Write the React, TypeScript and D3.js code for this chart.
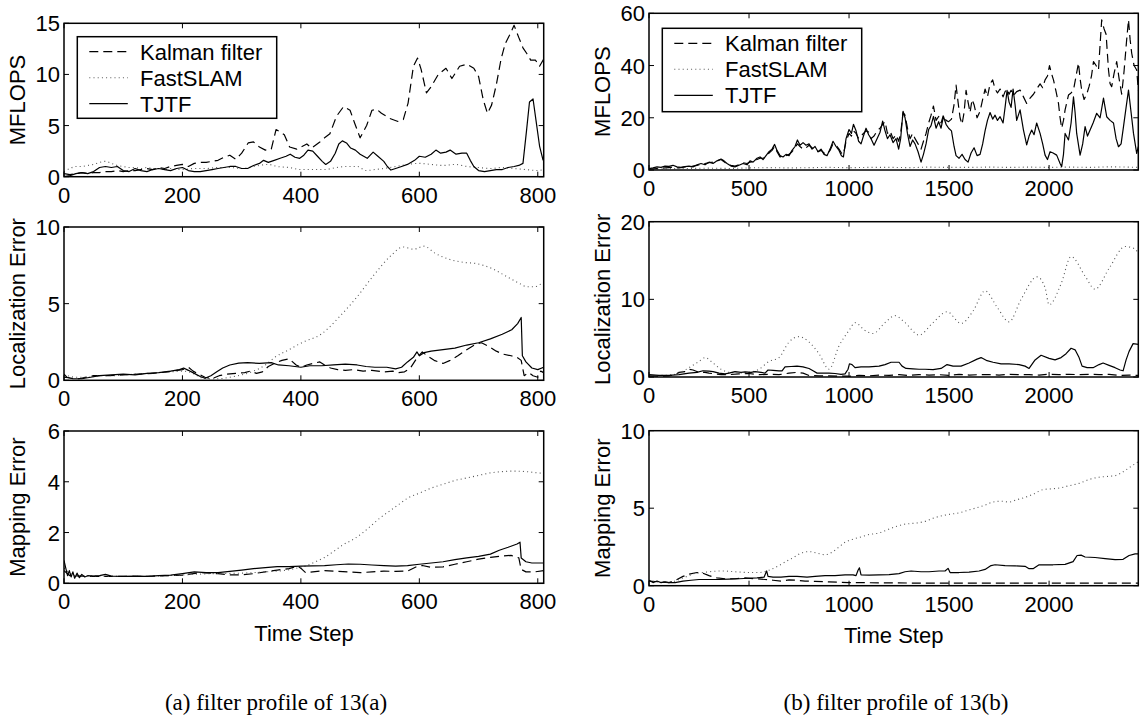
import React from "react";
import * as d3 from "d3";

type P = [number, number];

// ---------- (a) left column data ----------
const xTicksA = [0, 200, 400, 600, 800];
const xTicksB = [0, 500, 1000, 1500, 2000];
const yTicksAFlops = [0, 5, 10, 15];
const yTicksALoc = [0, 5, 10];
const yTicksAMap = [0, 2, 4, 6];
const yTicksBFlops = [0, 20, 40, 60];
const yTicksBLoc = [0, 10, 20];
const yTicksBMap = [0, 5, 10];

const seriesNames = ["Kalman filter", "FastSLAM", "TJTF"];

const aFlopsKalman: P[] = [[0,0.3],[10,0.2],[20,0.3],[30,0.4],[40,0.3],[50,0.4],[60,0.4],[70,0.5],[80,0.5],[90,0.6],[100,0.5],[110,0.6],[120,0.6],[130,0.7],[140,0.8],[150,0.7],[160,0.9],[170,0.8],[180,1.0],[190,1.1],[200,1.2],[210,1.0],[220,1.3],[230,1.4],[240,1.4],[250,1.5],[260,1.6],[270,1.9],[280,2.1],[290,1.7],[300,2.3],[311,3.3],[320,3.4],[330,2.9],[340,2.6],[350,2.7],[358,4.6],[365,4.4],[372,4.1],[381,2.9],[393,2.7],[400,2.9],[410,3.2],[418,2.8],[432,3.4],[440,3.8],[449,4.2],[460,5.9],[472,6.85],[483,6.5],[491,5.2],[500,3.8],[511,5.0],[520,6.5],[528,6.6],[536,6.2],[550,5.7],[564,5.4],[573,5.6],[581,7.2],[590,10.8],[597,11.6],[603,10.5],[612,8.2],[620,8.8],[632,10.0],[645,10.6],[655,9.6],[668,10.8],[680,11.0],[692,10.6],[700,9.8],[708,7.5],[715,6.2],[722,7.0],[730,9.0],[738,11.5],[745,13.0],[752,13.8],[760,14.8],[768,13.6],[775,12.6],[782,12.0],[788,11.4],[796,11.4],[803,10.8],[810,11.5]];
const aFlopsFast: P[] = [[0,0.5],[10,0.8],[20,1.0],[30,1.0],[40,1.1],[50,1.2],[60,1.4],[70,1.5],[80,1.3],[90,1.1],[100,1.0],[110,0.9],[120,0.9],[130,0.8],[140,0.9],[150,0.8],[160,0.8],[170,0.7],[180,0.8],[190,0.7],[200,0.7],[220,0.8],[240,0.8],[260,0.9],[280,0.9],[300,0.8],[320,1.0],[345,1.2],[360,1.0],[380,0.9],[400,0.7],[420,0.7],[440,0.7],[460,0.9],[480,1.0],[495,1.0],[510,0.6],[525,0.7],[540,0.8],[560,1.0],[580,1.2],[600,1.3],[620,1.2],[640,1.1],[660,1.2],[680,1.0],[700,0.9],[720,0.8],[740,0.9],[760,0.8],[780,0.7],[800,0.6],[810,0.7]];
const aFlopsTjtf: P[] = [[0,0.0],[10,0.1],[20,0.3],[30,0.4],[40,0.3],[50,0.5],[60,0.9],[70,1.0],[80,0.9],[90,1.0],[100,0.6],[110,0.5],[120,0.8],[130,0.6],[140,0.5],[150,0.7],[160,0.8],[170,0.7],[180,0.6],[190,0.8],[200,0.9],[210,0.6],[220,0.5],[230,0.5],[240,0.6],[250,0.7],[260,0.8],[270,0.9],[280,1.0],[290,1.0],[300,0.8],[310,0.8],[320,1.1],[330,1.3],[337,1.6],[345,1.4],[355,1.6],[365,1.8],[375,2.0],[382,2.2],[390,1.9],[398,1.8],[405,2.1],[412,2.6],[420,2.5],[428,2.0],[436,1.5],[442,1.2],[450,1.5],[458,2.3],[464,3.2],[470,3.5],[477,3.3],[484,2.8],[492,2.6],[500,2.2],[506,2.0],[512,1.8],[522,2.4],[530,2.0],[540,1.5],[546,1.0],[552,0.65],[560,0.8],[570,1.0],[580,1.2],[592,1.6],[600,2.0],[610,1.9],[620,2.2],[628,2.6],[636,2.3],[645,2.4],[652,2.6],[662,2.2],[672,2.3],[680,2.3],[686,1.6],[692,1.0],[700,0.6],[710,0.5],[720,0.6],[730,0.7],[740,0.7],[750,0.9],[760,1.0],[768,1.1],[775,1.3],[781,4.5],[786,7.3],[792,7.6],[797,5.5],[803,3.0],[809,1.6]];

const aLocKalman: P[] = [[0,0.2],[10,0.15],[25,0.1],[50,0.3],[75,0.3],[100,0.35],[125,0.4],[150,0.45],[175,0.55],[200,0.7],[210,0.85],[218,0.6],[228,0.4],[238,0.2],[250,0.1],[262,0.3],[275,0.4],[290,0.45],[305,0.5],[315,0.6],[325,0.45],[335,0.55],[345,0.9],[355,1.1],[368,1.3],[380,1.4],[392,1.0],[400,0.85],[410,1.0],[420,1.1],[432,1.2],[440,1.0],[450,0.8],[462,0.7],[475,0.65],[490,0.7],[505,0.6],[520,0.65],[540,0.55],[555,0.6],[565,0.5],[575,0.55],[585,0.8],[595,1.4],[605,1.85],[615,1.55],[625,1.3],[640,1.1],[652,1.3],[665,1.6],[680,2.0],[695,2.35],[705,2.45],[718,2.2],[730,1.9],[742,1.7],[755,1.6],[765,1.5],[772,1.3],[777,0.3],[785,0.5],[792,0.3],[800,0.2],[805,0.6],[810,0.5]];
const aLocFast: P[] = [[0,0.4],[20,0.2],[40,0.2],[60,0.3],[80,0.3],[100,0.35],[120,0.4],[140,0.45],[160,0.5],[180,0.55],[200,0.6],[215,0.5],[230,0.2],[245,0.1],[260,0.1],[280,0.2],[300,0.35],[320,0.6],[340,1.0],[356,1.5],[380,2.0],[404,2.5],[434,3.0],[464,4.1],[494,5.4],[524,6.9],[554,8.2],[572,8.7],[590,8.55],[608,8.75],[626,8.3],[650,7.9],[674,7.7],[698,7.6],[722,7.3],[746,6.8],[770,6.3],[782,6.1],[794,6.1],[806,6.3],[810,6.4]];
const aLocTjtf: P[] = [[0,0.4],[5,0.2],[15,0.1],[30,0.1],[45,0.2],[60,0.3],[80,0.35],[100,0.4],[120,0.35],[140,0.45],[160,0.5],[180,0.6],[195,0.7],[202,0.8],[210,0.65],[220,0.45],[230,0.25],[238,0.13],[248,0.3],[258,0.55],[268,0.8],[280,1.0],[295,1.12],[310,1.15],[330,1.1],[350,1.15],[362,1.0],[380,0.95],[400,0.85],[415,0.95],[435,0.95],[455,1.0],[475,1.05],[495,1.0],[510,0.9],[525,0.85],[545,0.85],[560,0.75],[570,0.85],[580,1.2],[590,1.5],[596,1.85],[600,1.6],[608,1.8],[620,1.9],[640,2.0],[660,2.1],[680,2.3],[700,2.45],[720,2.7],[740,3.0],[756,3.3],[766,3.7],[772,4.1],[774,1.6],[780,1.2],[790,0.8],[800,0.7],[810,0.85]];

const aMapKalman: P[] = [[0,0.5],[10,0.3],[30,0.28],[60,0.27],[100,0.27],[150,0.28],[200,0.32],[230,0.42],[260,0.38],[280,0.33],[300,0.33],[320,0.38],[340,0.45],[360,0.52],[380,0.58],[395,0.68],[402,0.55],[408,0.42],[420,0.45],[440,0.5],[460,0.47],[480,0.45],[500,0.42],[520,0.45],[540,0.48],[560,0.47],[580,0.48],[595,0.65],[605,0.7],[620,0.63],[640,0.65],[660,0.75],[680,0.85],[700,0.95],[720,1.02],[740,1.08],[755,1.1],[768,1.0],[772,0.55],[780,0.45],[795,0.45],[810,0.5]];
const aMapFast: P[] = [[0,0.6],[20,0.3],[60,0.28],[100,0.27],[150,0.28],[200,0.33],[250,0.38],[300,0.4],[340,0.45],[370,0.5],[390,0.58],[410,0.7],[425,0.85],[440,1.02],[455,1.25],[470,1.5],[490,1.75],[505,2.0],[520,2.3],[535,2.6],[550,2.85],[565,3.1],[580,3.35],[600,3.55],[620,3.75],[640,3.9],[660,4.05],[680,4.15],[700,4.25],[720,4.35],[740,4.4],[760,4.42],[780,4.4],[800,4.35],[810,4.33]];
const aMapTjtf: P[] = [[0,0.9],[3,0.6],[6,0.3],[9,0.5],[12,0.25],[15,0.45],[18,0.2],[22,0.4],[26,0.22],[30,0.35],[35,0.25],[40,0.3],[50,0.28],[60,0.3],[70,0.35],[80,0.28],[100,0.27],[120,0.28],[140,0.27],[160,0.3],[180,0.32],[200,0.38],[220,0.45],[240,0.42],[260,0.42],[280,0.47],[300,0.52],[320,0.58],[340,0.62],[360,0.66],[380,0.66],[400,0.68],[420,0.69],[440,0.7],[460,0.73],[480,0.76],[500,0.75],[520,0.72],[540,0.7],[560,0.68],[580,0.7],[600,0.75],[620,0.8],[640,0.85],[660,0.93],[680,1.0],[700,1.06],[720,1.15],[735,1.3],[750,1.42],[765,1.55],[770,1.62],[772,1.0],[780,0.85],[790,0.8],[810,0.8]];

// ---------- (b) right column data ----------
const bFlopsKalman: P[] = [[0,0.3],[20,0.4],[40,0.5],[60,0.6],[80,0.8],[100,0.9],[120,1.0],[140,0.8],[160,0.9],[180,1.2],[200,1.0],[220,1.5],[240,1.8],[260,2.2],[280,2.5],[300,2.8],[320,3.0],[340,3.5],[360,4.0],[375,3.2],[390,2.2],[410,1.8],[430,1.5],[450,2.0],[470,2.8],[490,2.5],[505,3.0],[520,3.2],[540,4.0],[555,4.5],[570,4.5],[585,5.0],[600,6.5],[615,7.5],[628,9.0],[640,7.0],[655,5.0],[670,5.5],[685,5.5],[700,6.0],[715,7.0],[730,8.5],[742,10.0],[755,9.0],[770,8.0],[785,8.5],[800,9.5],[815,8.5],[830,8.0],[845,7.0],[860,7.5],[875,6.5],[890,6.0],[905,7.5],[920,10.0],[935,9.5],[950,8.0],[962,6.5],[972,6.0],[985,11.0],[1000,14.0],[1012,13.0],[1022,15.0],[1035,14.0],[1048,12.0],[1060,13.0],[1072,14.0],[1085,15.0],[1098,14.5],[1110,12.0],[1125,13.0],[1140,15.0],[1155,16.0],[1168,17.5],[1180,18.5],[1192,14.0],[1205,15.0],[1220,12.0],[1235,13.5],[1248,11.0],[1258,14.0],[1270,22.0],[1280,21.0],[1292,16.0],[1305,12.0],[1318,14.0],[1330,12.0],[1345,10.0],[1360,8.0],[1372,11.0],[1385,14.0],[1398,18.0],[1410,21.0],[1422,24.5],[1435,19.0],[1448,20.5],[1460,18.0],[1472,21.0],[1485,19.0],[1498,18.5],[1512,19.5],[1525,25.0],[1535,32.5],[1545,26.0],[1555,20.0],[1565,17.5],[1575,22.0],[1585,30.5],[1595,26.0],[1605,22.0],[1615,27.0],[1625,25.0],[1640,20.0],[1655,22.5],[1668,27.0],[1680,31.0],[1692,28.0],[1705,33.0],[1718,34.5],[1730,31.0],[1742,29.5],[1755,31.0],[1770,28.0],[1780,30.0],[1790,31.0],[1800,29.0],[1810,30.5],[1822,28.5],[1838,30.0],[1855,30.6],[1872,28.0],[1888,25.5],[1905,27.5],[1922,29.0],[1938,31.0],[1955,33.0],[1968,31.5],[1980,34.5],[1992,36.0],[2002,40.0],[2012,37.0],[2022,34.5],[2035,30.0],[2047,25.5],[2055,20.0],[2063,16.0],[2072,19.0],[2080,23.0],[2097,28.7],[2110,29.5],[2122,30.6],[2135,36.0],[2147,41.0],[2155,35.0],[2163,30.6],[2175,27.0],[2188,29.0],[2200,32.0],[2212,36.0],[2222,41.5],[2235,40.0],[2247,38.3],[2255,48.0],[2263,57.5],[2275,54.0],[2285,52.0],[2297,38.3],[2305,33.0],[2313,31.9],[2325,37.0],[2338,41.5],[2350,35.0],[2363,29.0],[2375,38.0],[2388,50.0],[2397,57.5],[2405,50.0],[2413,44.7],[2425,40.0],[2438,38.3],[2446,30.6]];
const bFlopsFast: P[] = [[0,0.3],[100,0.5],[200,0.6],[300,0.7],[400,0.6],[500,0.8],[600,0.9],[700,0.8],[800,0.9],[900,1.0],[1000,0.9],[1100,1.0],[1200,1.0],[1300,0.9],[1400,1.1],[1500,1.0],[1600,1.0],[1700,1.1],[1800,1.0],[1900,1.1],[2000,1.0],[2100,1.1],[2200,1.0],[2300,1.2],[2400,1.1],[2446,1.0]];
const bFlopsTjtf: P[] = [[0,0.5],[20,0.8],[40,1.2],[60,1.0],[80,1.5],[100,1.4],[120,1.8],[140,1.2],[160,1.0],[180,1.3],[200,1.5],[220,1.2],[240,2.0],[260,2.5],[280,2.0],[300,3.0],[320,2.5],[340,3.5],[360,4.2],[375,3.5],[390,2.5],[410,1.5],[430,1.2],[450,1.8],[470,2.5],[490,2.0],[505,3.5],[520,3.0],[540,4.5],[555,5.0],[570,4.0],[585,5.5],[600,7.0],[615,8.0],[628,9.8],[640,7.5],[655,5.5],[670,5.0],[685,6.0],[700,5.5],[715,7.5],[730,9.0],[742,11.5],[755,9.5],[770,10.5],[785,9.5],[800,10.0],[815,8.0],[830,9.0],[845,7.0],[860,8.0],[875,6.0],[890,5.5],[905,8.0],[920,11.0],[935,9.0],[950,7.5],[962,5.5],[972,5.0],[985,12.0],[1000,15.5],[1012,14.0],[1022,17.5],[1035,15.0],[1048,11.0],[1060,10.0],[1072,13.0],[1085,16.0],[1098,13.5],[1110,12.0],[1125,9.5],[1140,12.0],[1155,14.5],[1168,18.7],[1180,15.0],[1192,12.0],[1205,13.5],[1220,10.5],[1235,12.0],[1248,8.0],[1258,12.0],[1270,22.5],[1280,20.0],[1292,14.0],[1305,9.0],[1318,11.5],[1330,10.0],[1345,7.0],[1360,3.0],[1372,6.0],[1385,10.0],[1398,15.5],[1410,17.0],[1422,20.5],[1435,16.0],[1448,18.5],[1460,16.0],[1472,20.5],[1485,17.5],[1498,16.0],[1512,15.0],[1525,9.0],[1535,5.5],[1550,4.5],[1565,6.0],[1580,4.0],[1595,3.0],[1610,6.5],[1625,8.5],[1640,5.5],[1655,6.0],[1668,10.0],[1680,15.0],[1692,19.0],[1705,22.0],[1718,19.5],[1730,21.0],[1742,19.0],[1755,20.4],[1770,18.0],[1780,24.0],[1790,30.5],[1800,26.0],[1810,24.0],[1820,31.0],[1830,25.0],[1838,19.0],[1855,23.0],[1872,15.3],[1888,9.6],[1900,13.0],[1913,15.3],[1925,13.5],[1938,18.0],[1955,14.0],[1968,10.0],[1980,5.7],[1992,4.0],[2005,7.0],[2020,6.5],[2038,5.7],[2055,2.5],[2063,1.3],[2072,6.0],[2080,14.0],[2097,11.5],[2110,18.0],[2122,28.0],[2130,22.0],[2138,14.0],[2155,5.7],[2168,10.0],[2180,16.6],[2192,13.0],[2205,15.3],[2220,18.0],[2238,21.7],[2255,20.0],[2272,27.5],[2288,20.4],[2305,19.0],[2322,18.0],[2335,12.0],[2347,8.9],[2360,10.0],[2372,16.6],[2385,24.0],[2397,30.6],[2410,22.0],[2422,14.0],[2438,6.4],[2446,8.9]];

const bLocKalman: P[] = [[0,0.15],[50,0.1],[100,0.15],[130,0.3],[150,0.6],[180,0.7],[200,1.0],[220,0.9],[250,0.6],[280,0.6],[300,0.5],[330,0.4],[360,0.3],[400,0.3],[450,0.4],[500,0.45],[550,0.3],[600,0.35],[650,0.3],[700,0.5],[740,0.6],[770,0.5],[800,0.2],[850,0.15],[900,0.15],[950,0.1],[1000,0.1],[1050,0.2],[1100,0.15],[1150,0.25],[1200,0.2],[1250,0.3],[1300,0.2],[1350,0.3],[1400,0.25],[1450,0.3],[1500,0.2],[1550,0.35],[1600,0.25],[1650,0.3],[1700,0.3],[1750,0.25],[1800,0.35],[1850,0.3],[1900,0.3],[1950,0.25],[2000,0.35],[2050,0.3],[2100,0.35],[2150,0.3],[2200,0.35],[2250,0.3],[2300,0.35],[2350,0.2],[2400,0.25],[2446,0.2]];
const bLocFast: P[] = [[0,0.2],[50,0.2],[100,0.25],[150,0.5],[200,1.2],[250,2.0],[280,2.5],[320,1.8],[360,1.0],[400,0.6],[450,0.5],[500,0.6],[550,1.0],[600,2.0],[650,2.5],[700,4.5],[750,5.2],[800,4.5],[850,3.0],[900,1.0],[950,4.0],[1000,6.0],[1030,7.0],[1080,6.0],[1120,5.6],[1180,7.0],[1230,7.9],[1280,7.0],[1350,5.4],[1420,7.0],[1490,8.4],[1560,6.9],[1620,8.5],[1680,11.1],[1740,9.0],[1800,7.1],[1860,10.0],[1940,12.9],[1980,11.5],[2000,9.3],[2060,12.0],[2110,15.5],[2180,13.0],[2230,11.3],[2300,14.0],[2380,16.8],[2430,16.5],[2446,15.8]];
const bLocTjtf: P[] = [[0,0.3],[50,0.2],[100,0.2],[150,0.3],[200,0.5],[240,0.6],[270,0.8],[300,0.75],[320,0.7],[350,0.5],[380,0.4],[400,0.5],[430,0.7],[460,0.6],[480,0.65],[510,0.6],[530,0.7],[560,0.6],[580,0.5],[595,0.9],[620,0.85],[650,0.8],[665,0.8],[680,1.3],[710,1.35],[740,1.4],[770,1.3],[800,1.1],[820,0.8],[840,0.5],[870,0.5],[900,0.5],[930,0.45],[960,0.35],[980,0.4],[995,1.0],[1002,1.7],[1015,1.6],[1030,1.2],[1060,1.3],[1100,1.3],[1150,1.4],[1180,1.6],[1210,1.9],[1250,1.9],[1265,1.4],[1285,1.1],[1320,1.05],[1350,1.0],[1380,1.0],[1420,0.95],[1460,1.1],[1490,1.6],[1520,1.4],[1560,1.4],[1600,1.8],[1640,2.3],[1660,2.5],[1690,2.1],[1720,1.9],[1760,1.7],[1800,1.7],[1850,1.6],[1880,1.4],[1900,1.1],[1930,2.2],[1960,2.8],[2000,2.4],[2030,2.2],[2060,2.5],[2085,3.0],[2110,3.7],[2130,3.5],[2150,2.5],[2165,1.4],[2190,1.2],[2220,1.2],[2250,1.6],[2270,1.8],[2300,1.5],[2330,1.2],[2355,0.9],[2370,0.8],[2385,2.2],[2400,3.3],[2420,4.3],[2446,4.2]];

const bMapKalman: P[] = [[0,0.3],[50,0.25],[100,0.2],[140,0.4],[170,0.6],[200,0.75],[240,0.85],[270,0.8],[300,0.65],[340,0.5],[380,0.45],[430,0.45],[480,0.5],[530,0.45],[580,0.4],[620,0.35],[660,0.3],[700,0.38],[740,0.35],[780,0.3],[830,0.28],[900,0.25],[1000,0.2],[1200,0.18],[1500,0.16],[1800,0.16],[2100,0.16],[2446,0.16]];
const bMapFast: P[] = [[0,0.3],[50,0.25],[100,0.2],[140,0.35],[170,0.5],[200,0.65],[230,0.8],[270,0.85],[300,0.9],[370,0.95],[430,0.9],[500,0.85],[550,0.85],[600,1.0],[650,1.3],[690,1.6],[720,1.8],[760,2.1],[800,2.2],[840,2.1],[880,2.0],[920,2.2],[950,2.5],[980,2.8],[1020,3.0],[1060,3.15],[1100,3.3],[1150,3.4],[1190,3.6],[1230,3.8],[1270,3.95],[1300,4.0],[1340,4.05],[1380,4.15],[1420,4.35],[1460,4.5],[1500,4.6],[1550,4.7],[1590,4.85],[1630,5.0],[1680,5.2],[1720,5.4],[1760,5.45],[1800,5.4],[1840,5.55],[1880,5.7],[1920,5.9],[1970,6.2],[2010,6.25],[2050,6.3],[2100,6.45],[2150,6.6],[2200,6.85],[2250,7.0],[2290,7.05],[2330,7.1],[2370,7.35],[2410,7.7],[2446,8.0]];
const bMapTjtf: P[] = [[0,0.35],[20,0.2],[40,0.3],[60,0.2],[80,0.25],[100,0.2],[130,0.2],[170,0.3],[210,0.35],[250,0.4],[300,0.4],[350,0.4],[400,0.42],[450,0.45],[500,0.48],[540,0.5],[575,0.55],[588,0.95],[595,0.6],[620,0.55],[660,0.55],[700,0.6],[740,0.6],[790,0.55],[830,0.6],[880,0.65],[930,0.65],[980,0.7],[1020,0.7],[1035,0.65],[1045,1.0],[1052,1.15],[1060,0.7],[1100,0.68],[1150,0.7],[1200,0.72],[1250,0.78],[1280,0.9],[1310,0.95],[1360,0.9],[1400,0.9],[1450,0.95],[1480,0.95],[1495,1.12],[1505,0.85],[1550,0.85],[1600,0.87],[1650,0.95],[1680,1.05],[1710,1.3],[1730,1.35],[1780,1.3],[1830,1.28],[1880,1.25],[1900,1.1],[1920,1.1],[1950,1.35],[1970,1.35],[2020,1.35],[2080,1.38],[2120,1.55],[2140,1.95],[2160,1.97],[2180,1.85],[2230,1.82],[2280,1.75],[2330,1.68],[2370,1.7],[2400,1.95],[2430,2.05],[2446,2.05]];

// ---------- layout ----------
const SANS = "'Liberation Sans', Arial, Helvetica, sans-serif";
const SERIF = "'Liberation Serif', 'Times New Roman', Times, serif";
const FS = 22;

const styles = [
  { stroke: "#000", dash: "9 5", width: 1.2, curve: false },
  { stroke: "#555", dash: "1 3.2", width: 1.1, curve: true },
  { stroke: "#000", dash: "", width: 1.2, curve: false },
];

type PanelCfg = {
  id: string;
  x0: number; x1: number; y0: number; y1: number;
  xMax: number; yMax: number;
  xTicks: number[]; yTicks: number[];
  ylabel: string; ylabelX: number;
  series: P[][];
  legend?: { x: number; y: number; w: number; h: number };
};

const panels: PanelCfg[] = [
  { id: "a1", x0: 64, x1: 543.7, y0: 23.3, y1: 176.7, xMax: 810, yMax: 15, xTicks: xTicksA, yTicks: yTicksAFlops, ylabel: "MFLOPS", ylabelX: 25, series: [aFlopsKalman, aFlopsFast, aFlopsTjtf], legend: { x: 77.3, y: 36.7, w: 199.4, h: 81.6 } },
  { id: "a2", x0: 64, x1: 543.7, y0: 227, y1: 380.3, xMax: 810, yMax: 10, xTicks: xTicksA, yTicks: yTicksALoc, ylabel: "Localization Error", ylabelX: 25, series: [aLocKalman, aLocFast, aLocTjtf] },
  { id: "a3", x0: 64, x1: 543.7, y0: 431, y1: 583.3, xMax: 810, yMax: 6, xTicks: xTicksA, yTicks: yTicksAMap, ylabel: "Mapping Error", ylabelX: 25, series: [aMapKalman, aMapFast, aMapTjtf] },
  { id: "b1", x0: 649, x1: 1138.3, y0: 13.3, y1: 170, xMax: 2446, yMax: 60, xTicks: xTicksB, yTicks: yTicksBFlops, ylabel: "MFLOPS", ylabelX: 610, series: [bFlopsKalman, bFlopsFast, bFlopsTjtf], legend: { x: 662.3, y: 28.3, w: 199.4, h: 83.4 } },
  { id: "b2", x0: 649, x1: 1138.3, y0: 221.7, y1: 377, xMax: 2446, yMax: 20, xTicks: xTicksB, yTicks: yTicksBLoc, ylabel: "Localization Error", ylabelX: 610, series: [bLocKalman, bLocFast, bLocTjtf] },
  { id: "b3", x0: 649, x1: 1138.3, y0: 430.7, y1: 585.7, xMax: 2446, yMax: 10, xTicks: xTicksB, yTicks: yTicksBMap, ylabel: "Mapping Error", ylabelX: 610, series: [bMapKalman, bMapFast, bMapTjtf] },
];

function Panel({ cfg }: { cfg: PanelCfg }) {
  const x = d3.scaleLinear().domain([0, cfg.xMax]).range([cfg.x0, cfg.x1]);
  const y = d3.scaleLinear().domain([0, cfg.yMax]).range([cfg.y1, cfg.y0]);
  const TL = 5;
  const clipId = `clip-${cfg.id}`;
  return (
    <g>
      <defs>
        <clipPath id={clipId}>
          <rect x={cfg.x0} y={cfg.y0 - 1} width={cfg.x1 - cfg.x0} height={cfg.y1 - cfg.y0 + 1} />
        </clipPath>
      </defs>
      <g clipPath={`url(#${clipId})`}>
        {cfg.series.map((data, i) => {
          const st = styles[i];
          const line = d3.line<P>().x((d) => x(d[0])).y((d) => y(d[1]));
          if (st.curve) line.curve(d3.curveMonotoneX);
          return (
            <path key={i} d={line(data) || ""} fill="none" stroke={st.stroke}
              strokeWidth={st.width} strokeDasharray={st.dash || undefined}
              strokeLinejoin="round" />
          );
        })}
      </g>
      {/* ticks */}
      {cfg.xTicks.map((t) => (
        <g key={"xt" + t}>
          <line x1={x(t)} x2={x(t)} y1={cfg.y1} y2={cfg.y1 - TL} stroke="#000" strokeWidth={1} />
          <line x1={x(t)} x2={x(t)} y1={cfg.y0} y2={cfg.y0 + TL} stroke="#000" strokeWidth={1} />
          <text x={x(t)} y={cfg.y1 + 26} textAnchor="middle" fontFamily={SANS} fontSize={FS}>{t}</text>
        </g>
      ))}
      {cfg.yTicks.map((t) => (
        <g key={"yt" + t}>
          <line x1={cfg.x0} x2={cfg.x0 + TL} y1={y(t)} y2={y(t)} stroke="#000" strokeWidth={1} />
          <line x1={cfg.x1} x2={cfg.x1 - TL} y1={y(t)} y2={y(t)} stroke="#000" strokeWidth={1} />
          <text x={cfg.x0 - 4} y={y(t) + 8} textAnchor="end" fontFamily={SANS} fontSize={FS}>{t}</text>
        </g>
      ))}
      <rect x={cfg.x0} y={cfg.y0} width={cfg.x1 - cfg.x0} height={cfg.y1 - cfg.y0} fill="none" stroke="#000" strokeWidth={1.5} />
      <text transform={`translate(${cfg.ylabelX},${(cfg.y0 + cfg.y1) / 2}) rotate(-90)`} textAnchor="middle" fontFamily={SANS} fontSize={FS}>{cfg.ylabel}</text>
      {cfg.legend && (
        <g>
          <rect x={cfg.legend.x} y={cfg.legend.y} width={cfg.legend.w} height={cfg.legend.h} fill="#fff" stroke="#000" strokeWidth={1.5} />
          {seriesNames.map((name, i) => {
            const ly = cfg.legend!.y + 15 + i * 26;
            const st = styles[i];
            return (
              <g key={name}>
                <line x1={cfg.legend!.x + 12} x2={cfg.legend!.x + 50.5} y1={ly} y2={ly} stroke={st.stroke} strokeWidth={st.width} strokeDasharray={st.dash || undefined} />
                <text x={cfg.legend!.x + 62.7} y={ly + 8} fontFamily={SANS} fontSize={FS}>{name}</text>
              </g>
            );
          })}
        </g>
      )}
    </g>
  );
}

export default function App() {
  return (
    <svg width={1143} height={719} viewBox="0 0 1143 719"
      style={{ position: "absolute", left: 0, top: 0, background: "#fff" }}>
      <rect x={0} y={0} width={1143} height={719} fill="#fff" />
      {panels.map((p) => <Panel key={p.id} cfg={p} />)}
      <text x={304} y={641} textAnchor="middle" fontFamily={SANS} fontSize={FS}>Time Step</text>
      <text x={893.7} y={643} textAnchor="middle" fontFamily={SANS} fontSize={FS}>Time Step</text>
      <text x={276} y={710} textAnchor="middle" fontFamily={SERIF} fontSize={23}>(a) filter profile of 13(a)</text>
      <text x={896} y={710} textAnchor="middle" fontFamily={SERIF} fontSize={23}>(b) filter profile of 13(b)</text>
    </svg>
  );
}
